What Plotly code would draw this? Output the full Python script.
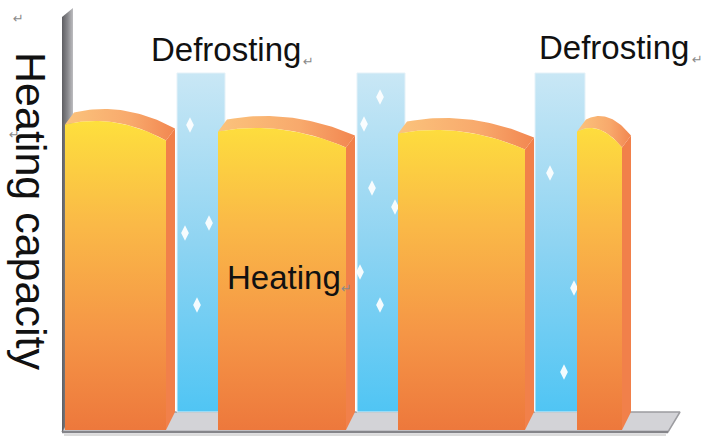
import numpy as np
import plotly.graph_objects as go

# Heat-pump operating cycle: heating periods interrupted by defrost periods
heat_start = [65, 218, 398, 577]
heat_end = [166, 346, 525, 622]
heat_capacity = [318, 311, 309, 311]

defrost_start = [177, 357, 535]
defrost_end = [225, 405, 585]
defrost_capacity = [366, 366, 366]

# frost flakes drawn inside the defrost columns
frost_t = [190, 185, 209, 197, 380, 364, 372, 395, 360, 380, 550, 574, 564]
frost_c = [314, 206, 216, 134, 342, 315, 251, 232, 167, 134, 266, 151, 67]

# baseline (floor) and capacity axis extents
floor_front, floor_back = 7, 27
axis_left, axis_right = 62, 668
axis_top = 431

DEPTH_X, DEPTH_Y = 9, 12

fig = go.Figure()


def poly(xs, ys, **kw):
    xs = list(xs) + [xs[0]]
    ys = list(ys) + [ys[0]]
    fig.add_trace(go.Scatter(x=xs, y=ys, mode="lines", fill="toself",
                             hoverinfo="skip", showlegend=False, **kw))


# floor slab
poly([axis_left, axis_right, axis_right + 12, axis_left + 10],
     [floor_front, floor_front, floor_back, floor_back],
     fillcolor="#d3d3d7", line=dict(color="#9c9ca0", width=1.5))
fig.add_trace(go.Scatter(x=[axis_left, axis_right], y=[floor_front, floor_front],
                         mode="lines", line=dict(color="#85858a", width=2.5),
                         hoverinfo="skip", showlegend=False))
fig.add_trace(go.Scatter(x=[axis_left + 2, axis_right - 2], y=[floor_front - 3, floor_front - 3],
                         mode="lines", line=dict(color="#dcdcdc", width=2),
                         hoverinfo="skip", showlegend=False))

# capacity wall
poly([axis_left, axis_left, axis_left + 11, axis_left + 11],
     [floor_front, axis_top - 9, axis_top, floor_back],
     line=dict(width=0),
     fillgradient=dict(type="horizontal", start=axis_left, stop=axis_left + 11,
                       colorscale=[[0, "#5e5e62"], [0.5, "#88888c"], [1, "#bdbdc0"]]))

# defrost columns
for s, e, c in zip(defrost_start, defrost_end, defrost_capacity):
    poly([s, e, e, s], [floor_back, floor_back, c, c],
         line=dict(color="#e4f1f8", width=1),
         fillgradient=dict(type="vertical", start=floor_back, stop=366,
                           colorscale=[[0, "#50c5f4"], [0.5, "#8fd4f2"], [1, "#c9e7f5"]]))

fig.add_trace(go.Scatter(x=frost_t, y=frost_c, mode="markers",
                         marker=dict(symbol="diamond-tall", size=11, color="rgba(255,255,255,0.92)",
                                     line=dict(width=0)),
                         hoverinfo="skip", showlegend=False))

# heating blocks: side face, rounded top rim, front face
for s, e, c in zip(heat_start, heat_end, heat_capacity):
    t = np.linspace(0, 1, 40)
    cx = s + (e - s) * t
    cy = c - 40 * (t - 0.3) ** 2
    yr = cy[-1]
    poly([e, e + DEPTH_X, e + DEPTH_X, e], [yr, yr + DEPTH_Y, floor_back, floor_front + 2],
         fillcolor="#f1804a", line=dict(width=0))
    poly(list(cx) + list(cx[::-1] + DEPTH_X), list(cy) + list(cy[::-1] + DEPTH_Y),
         line=dict(width=0),
         fillgradient=dict(type="horizontal", start=s, stop=e + DEPTH_X,
                           colorscale=[[0, "#fbc37c"], [0.6, "#f8a96c"], [1, "#f28650"]]))
    poly([s] + list(cx) + [e], [floor_front + 2] + list(cy) + [floor_front + 2],
         line=dict(width=0),
         fillgradient=dict(type="vertical", start=floor_front + 2, stop=325,
                           colorscale=[[0, "#ed783c"], [0.3, "#f59546"],
                                       [0.65, "#fab947"], [1, "#fee23c"]]))

label_font = dict(family="Liberation Sans, Arial", size=33, color="#111111")
mark_font = dict(family="DejaVu Sans", size=13, color="#8a8a8a")

annotations = [
    dict(x=149, y=390, text="Defrosting", font=label_font, xanchor="left", yanchor="middle"),
    dict(x=537, y=392, text="Defrosting", font=label_font, xanchor="left", yanchor="middle"),
    dict(x=225, y=162, text="Heating", font=label_font, xanchor="left", yanchor="middle"),
    dict(x=31, y=228, text="Heating capacity", textangle=90,
         font=dict(family="Liberation Sans, Arial", size=43, color="#111111"),
         xanchor="center", yanchor="middle"),
    dict(x=308, y=378, text="↵", font=mark_font, xanchor="center", yanchor="middle"),
    dict(x=697, y=380, text="↵", font=mark_font, xanchor="center", yanchor="middle"),
    dict(x=346, y=151, text="↵", font=mark_font, xanchor="center", yanchor="middle"),
    dict(x=18, y=421, text="↵", font=mark_font, xanchor="center", yanchor="middle"),
    dict(x=14, y=305, text="↵", font=mark_font, xanchor="center", yanchor="middle"),
]
for a in annotations:
    a.update(xref="x", yref="y", showarrow=False)

fig.update_layout(
    width=705, height=439,
    margin=dict(l=0, r=0, t=0, b=0),
    paper_bgcolor="white", plot_bgcolor="white",
    xaxis=dict(range=[0, 705], visible=False, fixedrange=True),
    yaxis=dict(range=[0, 439], visible=False, fixedrange=True),
    annotations=annotations,
    showlegend=False,
)

fig.write_html("out.html")
